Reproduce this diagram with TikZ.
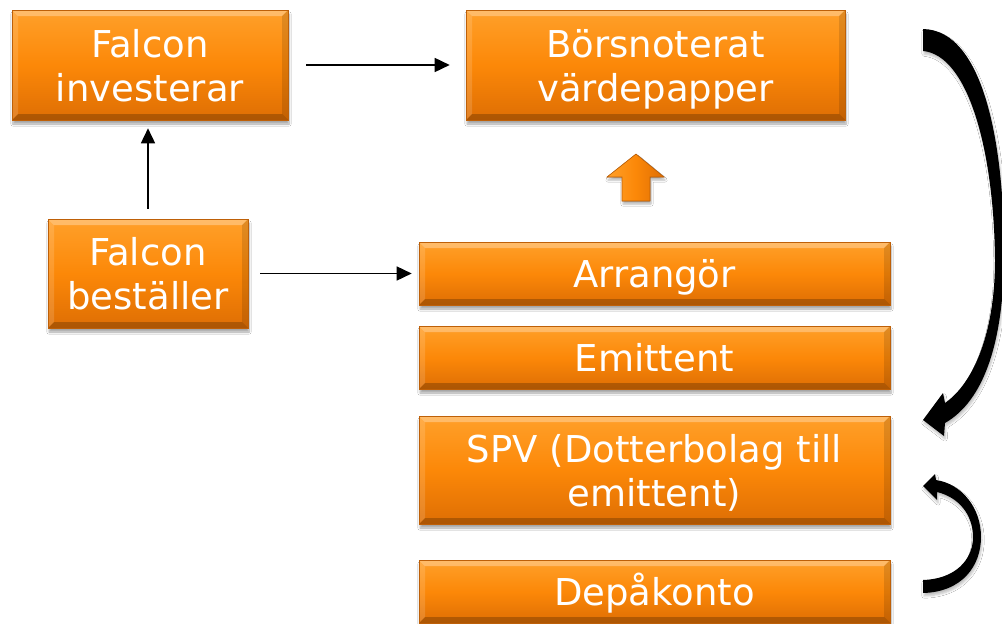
\documentclass[tikz,border=0pt]{standalone}
\usepackage{fontspec}
\setmainfont{DejaVu Sans}
\usetikzlibrary{arrows.meta,shadows.blur}
\definecolor{orTop}{RGB}{255,160,42}
\definecolor{orMid}{RGB}{252,136,8}
\definecolor{orBot}{RGB}{222,110,4}
\definecolor{orEdge}{RGB}{190,96,8}
\newcommand{\tsA}{\rule{0pt}{37pt}}
\newcommand{\tsB}{\rule[-9pt]{0pt}{9pt}}
\tikzset{
  obox/.style={rectangle, inner sep=0pt, text=white, align=center,
    font=\fontsize{37}{44}\selectfont,
    top color=orTop, bottom color=orBot, middle color=orMid,
    draw=orEdge, line width=0.6pt,
    blur shadow={shadow xshift=1pt, shadow yshift=-4pt, shadow blur steps=6, shadow opacity=35},
    path picture={
      \fill[white,opacity=0.30] (path picture bounding box.north west) -- (path picture bounding box.north east)
        -- ([shift={(-6pt,-6pt)}]path picture bounding box.north east) -- ([shift={(6pt,-6pt)}]path picture bounding box.north west) -- cycle;
      \fill[white,opacity=0.14] (path picture bounding box.north west) -- ([shift={(6pt,-6pt)}]path picture bounding box.north west)
        -- ([shift={(6pt,6pt)}]path picture bounding box.south west) -- (path picture bounding box.south west) -- cycle;
      \fill[black,opacity=0.12] (path picture bounding box.north east) -- ([shift={(-6pt,-6pt)}]path picture bounding box.north east)
        -- ([shift={(-6pt,6pt)}]path picture bounding box.south east) -- (path picture bounding box.south east) -- cycle;
      \fill[black,opacity=0.22] (path picture bounding box.south west) -- (path picture bounding box.south east)
        -- ([shift={(-6pt,6pt)}]path picture bounding box.south east) -- ([shift={(6pt,6pt)}]path picture bounding box.south west) -- cycle;
    }},
  conn/.style={draw=black, line width=1.6pt, -{Triangle[length=15pt,width=14pt]}},
  curvearrow/.style={fill=black, blur shadow={shadow xshift=1pt, shadow yshift=-3pt, shadow blur steps=5, shadow opacity=25}}
}
\begin{document}
\begin{tikzpicture}[x=1pt,y=-1pt]
\useasboundingbox[fill=white] (0,0) rectangle (1002,624);

\node[obox, minimum width=276pt, minimum height=110pt] (inv) at (150,65) {\tsA Falcon\\investerar\tsB};
\node[obox, minimum width=379pt, minimum height=110pt] (bors) at (655.5,65) {\tsA Börsnoterat\\värdepapper\tsB};
\node[obox, minimum width=200pt, minimum height=109pt] (best) at (148,273.5) {\tsA Falcon\\beställer\tsB};
\node[obox, minimum width=471pt, minimum height=63pt] (arr) at (654.5,273.5) {\tsA Arrangör\tsB};
\node[obox, minimum width=471pt, minimum height=63pt] (emi) at (654.5,357.5) {\tsA Emittent\tsB};
\node[obox, minimum width=471pt, minimum height=108pt] (spv) at (654.5,470) {\tsA SPV (Dotterbolag till\\emittent)\tsB};
\node[obox, minimum width=471pt, minimum height=63pt] (dep) at (654.5,591.5) {\tsA Depåkonto\tsB};

% connectors
\draw[conn, shorten <=18pt, shorten >=16pt] (inv.east) -- (bors.west);
\draw[conn, shorten <=10pt, shorten >=8pt] (best.north) -- (best.north |- inv.south);
\draw[conn, shorten <=12pt, shorten >=7pt] (best.east) -- (arr.west);

% orange block arrow
\fill[left color=orTop, right color=orBot, middle color=orMid, draw=orEdge, line width=0.6pt,
  blur shadow={shadow xshift=1pt, shadow yshift=-3pt, shadow blur steps=5, shadow opacity=30}]
  (636,154) -- (664,177) -- (650,177) -- (650,201) -- (622,201) -- (622,177) -- (607,177) -- cycle;

% big curved arrow
\fill[curvearrow] (923,29) .. controls (985,30) and (1005,150) .. (1004,260)
  .. controls (1003,340) and (985,400) .. (945,423) -- (944,436) -- (923,420) -- (943,393) -- (945,403)
  .. controls (975,382) and (995,330) .. (995,260) .. controls (994,150) and (968,55) .. (923,51) -- cycle;

% small curved arrow
\fill[curvearrow] (923,593) .. controls (962,592) and (981,566) .. (981,537)
  .. controls (981,508) and (962,484) .. (936,480) -- (935,474) -- (923,486) -- (937,500) -- (937,492)
  .. controls (958,497) and (973,514) .. (973,537) .. controls (973,560) and (955,579) .. (923,580) -- cycle;
\end{tikzpicture}
\end{document}
